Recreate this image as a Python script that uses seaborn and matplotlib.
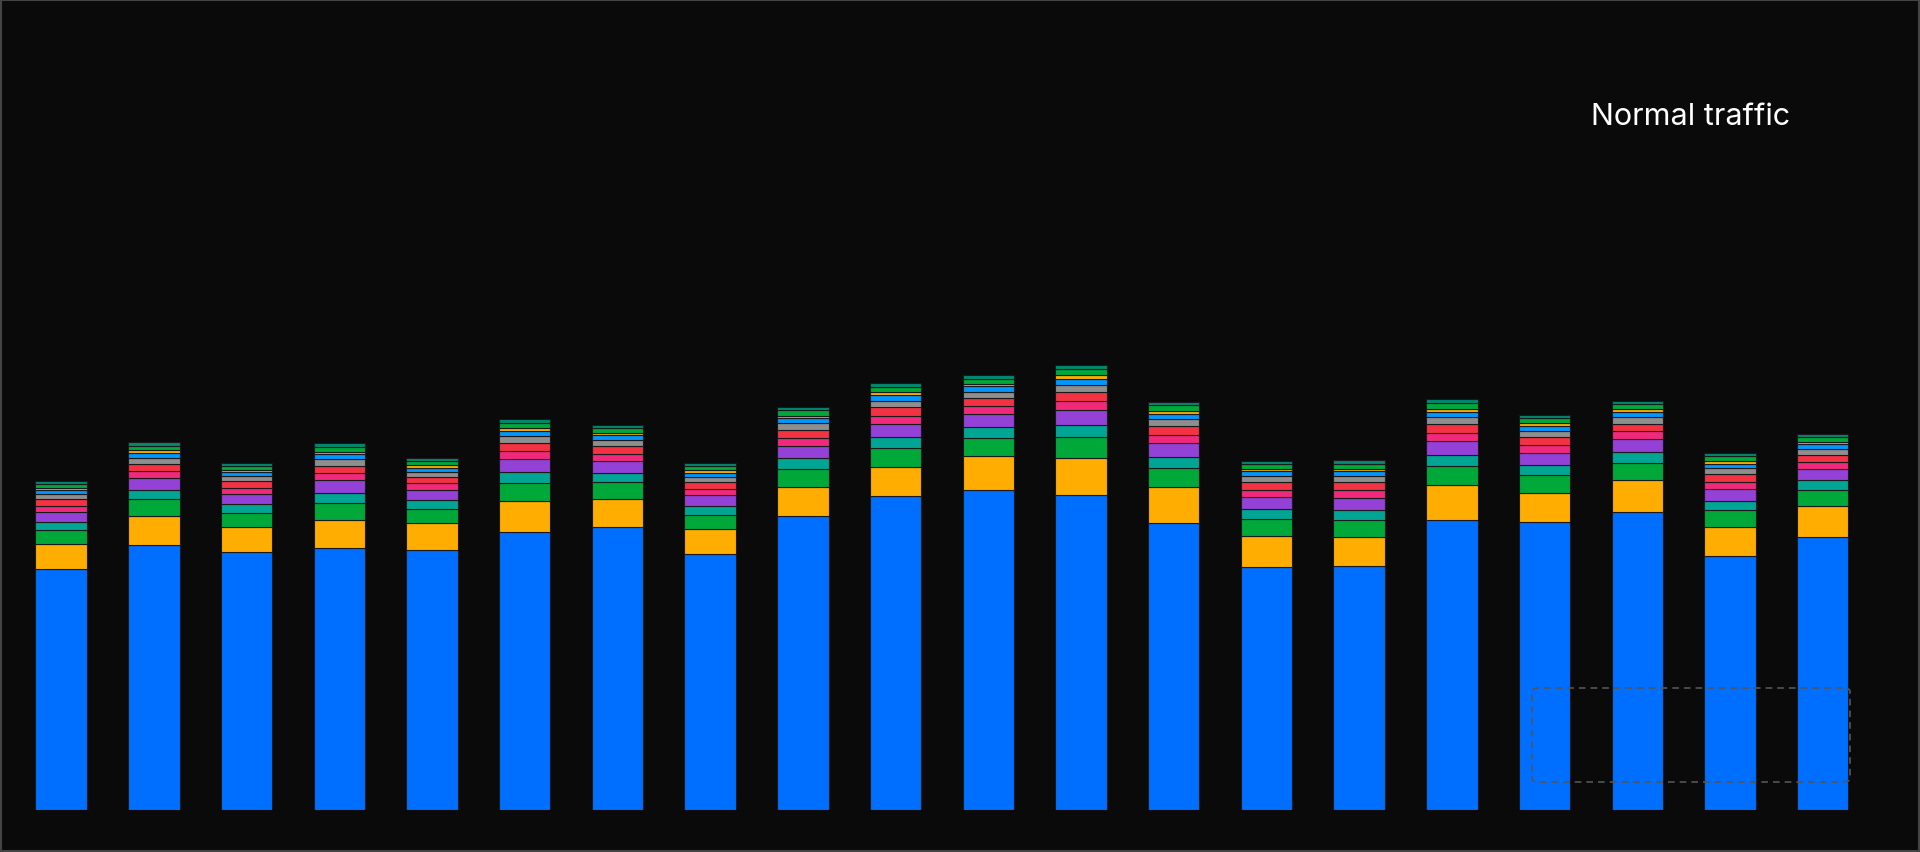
import numpy as np
import pandas as pd
import matplotlib
matplotlib.use("Agg")
import matplotlib.pyplot as plt
from matplotlib.patches import FancyBboxPatch
import seaborn as sns

periods = [f"P{i+1}" for i in range(20)]
blue   = [197,216,211,214,212,227,231,209,240,256,261,257,234,198,199,237,235,243,207,223]
orange = [20,24,20,23,22,25,23,20,24,24,28,30,30,26,24,28,24,26,24,25]
green  = [11.5,13.5,11.7,14,11.9,15.1,13.5,12.2,14.6,15.3,14.9,17.1,15.5,13.7,14,15.8,14.2,14.6,13.5,13.3]
teal   = [6.6,7.8,6.8,8.1,6.9,8.7,7.8,7,8.5,8.8,8.6,9.9,9,7.9,8.1,9.1,8.2,8.5,7.8,7.7]
purple = [8.2,9.6,8.3,9.9,8.5,10.7,9.6,8.6,10.4,10.9,10.6,12.2,11,9.8,9.9,11.2,10.1,10.4,9.6,9.4]
pink   = [5.1,6,5.2,6.2,5.3,6.7,6,5.4,6.5,6.8,6.6,7.6,6.9,6.1,6.2,7,6.3,6.5,6,5.9]
red    = [5.3,5.8,5.4,6.0,5.2,6.5,6.2,5.3,6.3,7.0,6.4,7.4,7.1,6.0,6.3,6.8,6.5,6.3,6.1,5.8]
gray   = [4.1,4.8,4.2,5,4.2,5.4,4.8,4.3,5.2,5.4,5.3,6.1,5.5,4.9,5,5.6,5,5.2,4.8,4.7]
lblue  = [3.3,3.9,3.4,4,3.4,4.4,3.9,3.5,4.2,4.4,4.3,4.9,4.5,4,4,4.6,4.1,4.2,3.9,3.8]
orange2= [1.8,2.1,1.8,2.2,1.9,2.3,2.1,1.9,2.3,2.4,2.3,2.7,2.4,2.1,2.2,2.5,2.2,2.3,2.1,2.1]
green2 = [3.3,3.8,3.4,4.1,3.5,4.3,3.9,3.4,4.3,4.5,4.2,4.8,4.4,4.0,4.1,4.5,4.1,4.3,3.9,3.9]
teal2  = [2.3,2.7,2.3,2.8,2.4,3,2.7,2.4,2.9,3.1,3,3.4,3.1,2.7,2.8,3.2,2.8,2.9,2.7,2.7]

series = [blue, orange, green, teal, purple, pink, red, gray, lblue, orange2, green2, teal2]
colors = ["#006EFF", "#FFAD00", "#00A83A", "#00A693", "#9341D6", "#F0297A",
          "#F33244", "#8E8E8E", "#0096FF", "#FFAD00", "#00A83A", "#008A70"]

bg = "#0A0A0A"
fig = plt.figure(figsize=(19.2, 8.53), dpi=100, facecolor=bg)
ax = fig.add_axes([0, 42/853, 1, 1 - 42/853])
ax.set_facecolor(bg)

bottom = np.zeros(len(periods))
for vals, c in zip(series, colors):
    df = pd.DataFrame({"period": periods, "v": vals})
    sns.barplot(data=df, x="period", y="v", color=c, ax=ax, width=0.555,
                bottom=bottom, edgecolor="#1a1a1a", linewidth=0.8, saturation=1,
                errorbar=None)
    bottom = bottom + np.array(vals)

ax.set_xlim(-0.66, 20.05)
ax.set_ylim(0, 662)
ax.axis("off")

# legend box
box = FancyBboxPatch((1532/1920, 70/853), (1850-1532)/1920, (164-70)/853,
                     boxstyle="round,pad=0,rounding_size=0.004",
                     transform=fig.transFigure, fill=False,
                     edgecolor="#555555", linestyle=(0, (4, 3)), linewidth=1.2)
fig.patches.append(box)
fig.text((1532+1850)/2/1920, 1 - 117/853, "Normal traffic", color="white",
         fontsize=22, family=["Inter", "DejaVu Sans"], ha="center", va="center")

# border
border = FancyBboxPatch((0.0005, 0.001), 0.999, 0.998, boxstyle="square,pad=0",
                        transform=fig.transFigure, fill=False,
                        edgecolor="#444444", linewidth=1.5)
fig.patches.append(border)

fig.savefig("out.png", dpi=100, facecolor=bg)
